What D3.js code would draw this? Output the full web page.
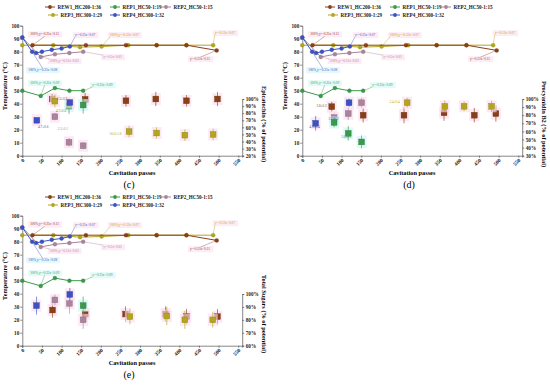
<!DOCTYPE html>
<html>
<head>
<meta charset="utf-8">
<script src="https://cdn.jsdelivr.net/npm/d3@7"></script>
<style>
  body { margin: 0; background: #fff; }
  svg { font-family: "Liberation Serif", "Times New Roman", serif; }
</style>
</head>
<body>
<svg id="chart" width="550" height="386"></svg>
<script>
// series
const seriesNames = ["REW1_HC200-1:36", "REP1_HC50-1:19", "REP2_HC50-1:15", "REP3_HC300-1:29", "REP4_HC300-1:32"];
const seriesColors = ["#8b3f16", "#3a9a4c", "#a9849c", "#b3a51d", "#3a52c2"];
const passTicks = d3.range(0, 551, 50);
const tempTicks = d3.range(0, 101, 10);

// temperature curves, same in every panel
const tempPasses = [
  [26, 162, 264, 342, 418, 495],
  [0, 47, 83, 120, 155],
  [0, 47, 83, 120, 155],
  [0, 79, 147, 202, 270, 342, 418, 486],
  [0, 25, 35, 50, 75, 100, 121]
];
const tempValues = [
  [85, 85, 85, 85, 85, 81],
  [50, 46, 52, 50, 50],
  [91, 76, 78, 79, 80],
  [85, 85, 83.5, 84, 85, 85, 85, 85],
  [91, 80, 79, 80, 81.5, 82.5, 84]
];

// fitted equation labels on the temperature curves: series, point index, label pass, label temp
const eqText = ["100%,y=-0.25x+0.11", "y=-0.25x+0.07", "100%,y=-0.12x+0.07", "y=-0.12x+0.07", "y=-0.25x+0.11",
                "100%,y=-0.25x+0.08", "100%,y=-0.12x+0.03", "y=-0.2x+0.03", "100%,y=-0.25x+0.09", "y=-0.25x+0.09"];
const eqSeries = [0, 4, 3, 3, 0, 4, 2, 2, 1, 1];
const eqPoint = [0, 6, 3, 7, 5, 1, 1, 4, 1, 4];
const eqPass = [20, 134, 223, 490, 427, 15, 70, 206, 20, 178];
const eqTemp = [92.5, 92, 92, 93.5, 73.5, 65, 72, 75, 55, 53.5];

// (c) Epicatechin
const epiPasses = [[76, 160, 264, 340, 418, 497], [119, 155], [83, 119, 155], [83, 272, 342, 414, 486], [37, 121]];
const epiValues = [[100, 99.5, 97.5, 100, 97.5, 100], [90, 91.5], [75, 39, 34], [97, 54, 52, 49, 50], [70, 95]];
const epiErrors = [[7, 9, 8, 10, 8, 10], [11, 12], [5, 6, 5], [9, 8, 8, 8, 8], [3, 4]];
const epiTicks = d3.range(20, 101, 10);
const epiLabels = ["2.3±0.2", "4.7±0.3", "4.7±0.6", "2.2±0.1", "16.6±1.8"];
const epiLabelSeries = [0, 1, 4, 2, 3];
const epiLabelPass = [88, 85, 40, 90, 222];
const epiLabelValue = [99, 82, 59, 56, 49];

// (d) Procyanidin B2
const pcbPasses = [[75, 155, 259, 361, 438, 493], [81, 117, 151], [81, 117, 151], [267, 363, 412, 482], [34, 119]];
const pcbValues = [[90.5, 80, 80, 83, 80, 82], [71, 57.6, 47], [77, 82, 95.4], [95.4, 91, 91, 91], [70, 95.4]];
const pcbErrors = [[6, 9, 10, 10, 9, 10], [6, 9, 8], [5, 8, 6], [6, 7, 6, 7], [9, 5]];
const pcbTicks = d3.range(30, 101, 10);
const pcbLabels = ["3.8±0.2", "1.9±0.2", "4.9±0.4", "2.6±0.1", "3.4±0.4"];
const pcbLabelSeries = [0, 4, 4, 1, 3];
const pcbLabelPass = [36, 66, 18, 99, 222];
const pcbLabelValue = [90, 74, 64, 52, 95];

// (e) Total Sugars
const sugPasses = [[77, 160, 263, 365, 418, 497], [155], [83, 120, 155], [274, 368, 414, 485], [36, 121]];
const sugValues = [[87.6, 84.5, 84.5, 84.5, 82.5, 82.5], [91], [95.4, 92.8, 80], [82.5, 83, 80, 80], [91, 99.7]];
const sugErrors = [[6, 5, 6, 6, 6, 6], [7], [4, 8, 7], [6, 7, 7, 6], [7, 5]];
const sugTicks = d3.range(60, 101, 10);

const svg = d3.select("#chart");

function drawPanel(ox, oy, letter, secTitle, secTicks, secTopPx, passes, values, errors, labels) {
  const g = svg.append("g").attr("transform", `translate(${ox},${oy})`);
  const x = d3.scaleLinear().domain([0, 560]).range([22.3, 242.2]);
  const y = d3.scaleLinear().domain([0, 100]).range([155.7, 25.7]);
  const y2 = d3.scaleLinear().domain([secTicks[0], 100]).range([155.7, secTopPx]);

  // axes
  const xAxis = g.append("g").attr("transform", "translate(0,155.7)")
    .call(d3.axisBottom(x).tickValues(passTicks).tickSize(2).tickFormat(d3.format("d")));
  xAxis.selectAll("text")
    .attr("text-anchor", "end").attr("dy", null).attr("y", 0)
    .attr("transform", "translate(2,5) rotate(-45)");
  const yAxis = g.append("g").attr("transform", "translate(22.3,0)")
    .call(d3.axisLeft(y).tickValues(tempTicks).tickSize(2));
  const y2Axis = g.append("g").attr("transform", "translate(242.2,0)")
    .call(d3.axisRight(y2).tickValues(secTicks).tickSize(2).tickFormat(d => d + "%"));
  [xAxis, yAxis, y2Axis].forEach(a => {
    a.selectAll("path, line").attr("stroke", "#555").attr("stroke-width", 0.7);
    a.selectAll("text").attr("font-size", 5.2).attr("font-weight", "bold")
      .attr("font-family", "Liberation Serif, serif").attr("fill", "#222");
  });
  yAxis.selectAll("text").attr("x", -3);
  y2Axis.selectAll("text").attr("x", 3.5);

  // titles
  g.append("text").attr("x", 132).attr("y", 175).attr("text-anchor", "middle")
    .attr("font-size", 6.3).attr("font-weight", "bold").text("Cavitation passes");
  g.append("text").attr("transform", "translate(7,86) rotate(-90)").attr("text-anchor", "middle")
    .attr("font-size", 6.3).attr("font-weight", "bold").text("Temperature (°C)");
  g.append("text").attr("transform", "translate(262,124) rotate(90)").attr("text-anchor", "middle")
    .attr("font-size", 6.3).attr("font-weight", "bold").text(secTitle);
  g.append("text").attr("x", 129).attr("y", 188).attr("text-anchor", "middle")
    .attr("font-size", 10).text(`(${letter})`);

  // legend
  const legX = [50, 115, 166, 53, 115];
  const legY = [7, 7, 7, 15, 15];
  const legOrder = [0, 1, 2, 3, 4];
  legOrder.forEach((s, i) => {
    const lg = g.append("g").attr("transform", `translate(${legX[i]},${legY[i]})`);
    lg.append("line").attr("x1", -5).attr("x2", 5).attr("stroke", seriesColors[s]).attr("stroke-width", 1);
    lg.append("circle").attr("r", 1.9).attr("fill", seriesColors[s]);
    lg.append("text").attr("x", 7.5).attr("y", 1.9).attr("font-size", 5.1).attr("font-weight", "bold")
      .attr("fill", "#222").text(seriesNames[s]);
  });

  // temperature lines
  const line = d3.line().x(d => x(d[0])).y(d => y(d[1]));
  const drawOrder = [1, 2, 3, 0, 4];
  drawOrder.forEach(s => {
    const pts = tempPasses[s].map((p, i) => [p, tempValues[s][i]]);
    g.append("path").datum(pts).attr("d", line).attr("fill", "none")
      .attr("stroke", seriesColors[s]).attr("stroke-width", 1);
    g.selectAll(null).data(pts).enter().append("circle")
      .attr("cx", d => x(d[0])).attr("cy", d => y(d[1])).attr("r", 2)
      .attr("fill", seriesColors[s]).attr("stroke", d3.color(seriesColors[s]).darker(0.5)).attr("stroke-width", 0.3);
  });

  // equation labels
  eqText.forEach((t, i) => {
    const s = eqSeries[i];
    const lx = x(eqPass[i]), ly = y(eqTemp[i]);
    const px = x(tempPasses[s][eqPoint[i]]), py = y(tempValues[s][eqPoint[i]]);
    const bg = (s === 1 || (s === 4 && i === 5)) ? "#c8f5f5" : "#fbd9ee";
    g.append("rect").attr("x", lx - 2).attr("y", ly - 4).attr("width", t.length * 1.65 + 4).attr("height", 6)
      .attr("fill", bg).attr("opacity", 0.5);
    g.append("line").attr("x1", lx + (px < lx ? 0 : t.length * 0.8)).attr("y1", ly + (py > ly ? 1 : -3))
      .attr("x2", px).attr("y2", py).attr("stroke", seriesColors[s]).attr("stroke-width", 0.4);
    g.append("text").attr("x", lx).attr("y", ly).attr("font-size", 3.4).attr("fill", seriesColors[s]).text(t);
  });

  // secondary squares with error bars
  const order = [0, 3, 2, 1, 4];
  order.forEach(s => {
    passes[s].forEach((p, i) => {
      const cx = x(p), cy = y2(values[s][i]);
      const halo = s === 1 ? "#cdf6f6" : "#fcdcef";
      g.append("rect").attr("x", cx - 5).attr("y", cy - 6).attr("width", 10).attr("height", 12)
        .attr("fill", halo).attr("opacity", 0.65);
      g.append("line").attr("x1", cx).attr("x2", cx)
        .attr("y1", y2(values[s][i] + errors[s][i])).attr("y2", y2(values[s][i] - errors[s][i]))
        .attr("stroke", seriesColors[s]).attr("stroke-width", 0.8).attr("opacity", 0.8);
      g.append("rect").attr("x", cx - 2.9).attr("y", cy - 2.9).attr("width", 5.8).attr("height", 5.8)
        .attr("fill", seriesColors[s]).attr("stroke", d3.color(seriesColors[s]).darker(0.6)).attr("stroke-width", 0.4);
    });
  });

  // value labels on the squares
  if (labels) {
    labels.text.forEach((t, i) => {
      const s = labels.series[i];
      g.append("text").attr("x", x(labels.pass[i])).attr("y", y2(labels.value[i]))
        .attr("font-size", 3.4).attr("fill", seriesColors[s]).text(t);
    });
  }
}

drawPanel(0, 0, "c", "Epicatechin (% of potential)", epiTicks, 99, epiPasses, epiValues, epiErrors,
  { text: epiLabels, series: epiLabelSeries, pass: epiLabelPass, value: epiLabelValue });
drawPanel(280, 0, "d", "Procyanidin B2 (% of potential)", pcbTicks, 99, pcbPasses, pcbValues, pcbErrors,
  { text: pcbLabels, series: pcbLabelSeries, pass: pcbLabelPass, value: pcbLabelValue });
drawPanel(0, 190, "e", "Total Sugars (% of potential)", sugTicks, 104, sugPasses, sugValues, sugErrors, null);
</script>
</body>
</html>
